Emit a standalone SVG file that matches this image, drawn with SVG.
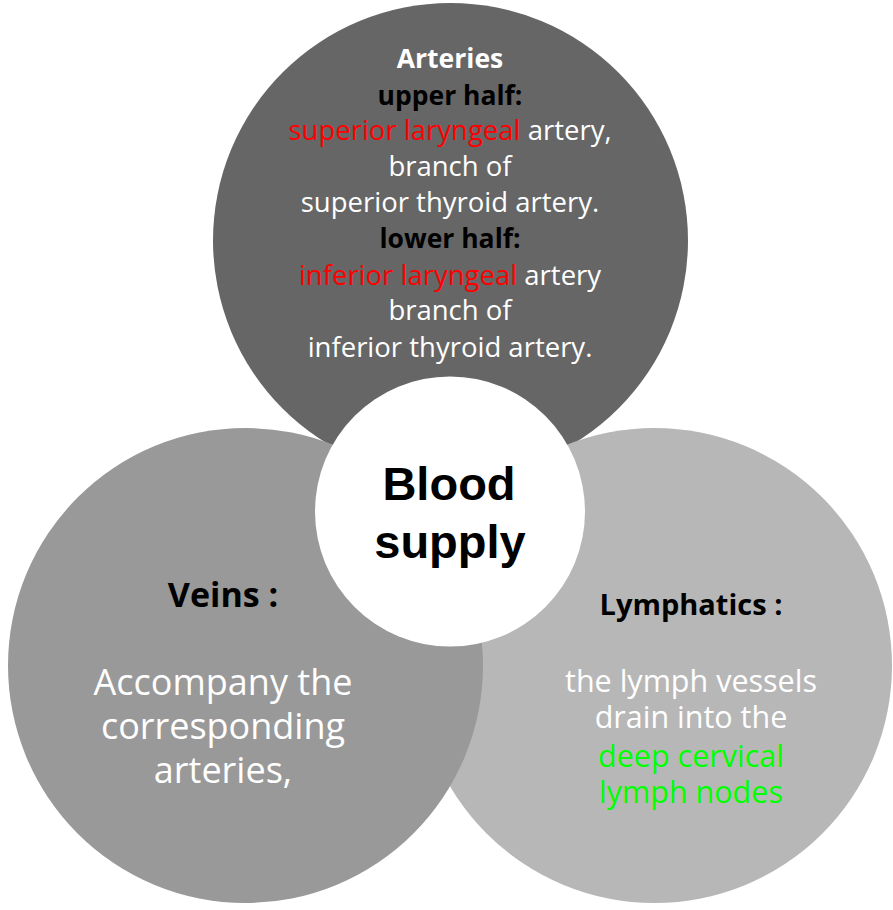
<svg xmlns="http://www.w3.org/2000/svg" width="893" height="910" viewBox="0 0 893 910">
<style>
.t{font-family:"Open Sans","Noto Sans",sans-serif;text-anchor:middle;fill:#fff}
.b{font-weight:bold;fill:#000}
.w{fill:#fff}
.red{fill:#ff0000}
.grn{fill:#00ff00}
.ctr{font-family:"Liberation Sans",Arial,sans-serif;font-weight:bold;font-size:47px;text-anchor:middle;fill:#000}
</style>
<rect width="893" height="910" fill="#fff"/>
<g id="connectors"></g>
<g id="arteries">
<circle cx="450.5" cy="240.5" r="237.5" fill="#666666"/>
<g class="t" font-size="27.5">
<text x="450" y="68" class="w" font-weight="bold" font-size="26.5">Arteries</text>
<text x="450" y="105" class="b" font-size="26.5">upper half:</text>
<text x="450" y="140"><tspan class="red">superior laryngeal</tspan> artery,</text>
<text x="450" y="176">branch of</text>
<text x="450" y="212">superior thyroid artery.</text>
<text x="450" y="248" class="b" font-size="26.5">lower half:</text>
<text x="450" y="285"><tspan class="red">inferior laryngeal</tspan> artery</text>
<text x="450" y="320">branch of</text>
<text x="450" y="357">inferior thyroid artery.</text>
</g>
</g>
<g id="lymphatics">
<circle cx="654.5" cy="665.5" r="237.5" fill="#b7b7b7"/>
<g class="t" font-size="30.5">
<text x="691" y="615" class="b" font-size="29">Lymphatics :</text>
<text x="691" y="692">the lymph vessels</text>
<text x="691" y="728">drain into the</text>
<text x="691" y="767" class="grn">deep cervical</text>
<text x="691" y="803" class="grn">lymph nodes</text>
</g>
</g>
<g id="veins">
<circle cx="245.5" cy="665.5" r="237.5" fill="#999999"/>
<g class="t" font-size="36">
<text x="223" y="607" class="b" font-size="34">Veins :</text>
<text x="223" y="695">Accompany the</text>
<text x="223" y="739">corresponding</text>
<text x="223" y="783">arteries,</text>
</g>
</g>
<g id="blood-supply">
<circle cx="450" cy="511.5" r="135" fill="#fff"/>
<text x="449" y="500" class="ctr">Blood</text>
<text x="450" y="558" class="ctr">supply</text>
</g>
</svg>
